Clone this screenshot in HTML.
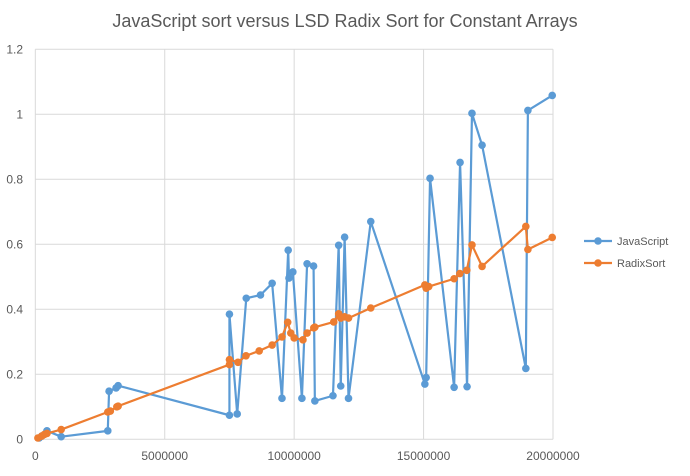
<!DOCTYPE html>
<html><head><meta charset="utf-8"><style>
body{margin:0;background:#fff;font-family:"Liberation Sans",sans-serif}
svg text{font-family:"Liberation Sans",sans-serif;fill:#595959}
</style></head><body>
<svg id="c" width="690" height="471"></svg>
<script>
const xTicks=[0,5000000,10000000,15000000,20000000];
const xTickLabels=["0","5000000","10000000","15000000","20000000"];
const yTicks=[0,0.2,0.4,0.6,0.8,1,1.2];
const yTickLabels=["0","0.2","0.4","0.6","0.8","1","1.2"];
const jsX=[0.15,0.25,0.45,1.0,2.8,2.85,3.12,3.2,7.5,7.5,7.8,8.15,8.7,9.15,9.53,9.77,9.8,9.95,10.3,10.5,10.75,10.8,11.5,11.72,11.8,11.95,12.1,12.96,15.05,15.1,15.25,16.18,16.41,16.68,16.87,17.26,18.95,19.03,19.97];
const jsY=[0.004,0.01,0.026,0.008,0.026,0.148,0.158,0.165,0.074,0.385,0.078,0.434,0.444,0.48,0.126,0.582,0.496,0.515,0.126,0.54,0.533,0.118,0.134,0.597,0.164,0.622,0.126,0.67,0.17,0.19,0.803,0.16,0.852,0.162,1.003,0.905,0.218,1.012,1.058];
const rxX=[0.1,0.25,0.35,0.45,1.0,2.8,2.9,3.15,3.2,7.5,7.5,7.83,8.14,8.65,9.15,9.53,9.75,9.87,10.0,10.34,10.5,10.76,10.8,11.53,11.72,11.8,11.95,12.1,12.96,15.05,15.1,15.2,16.18,16.4,16.67,16.87,17.26,18.95,19.03,19.97];
const rxY=[0.004,0.01,0.015,0.018,0.03,0.084,0.087,0.1,0.102,0.23,0.245,0.237,0.257,0.272,0.29,0.315,0.36,0.327,0.312,0.306,0.327,0.343,0.345,0.361,0.386,0.373,0.377,0.373,0.404,0.475,0.465,0.47,0.494,0.51,0.52,0.598,0.532,0.655,0.584,0.621];
const NS="http://www.w3.org/2000/svg",svg=document.getElementById('c');
const X0=35.3,X1=553,Y0=439.3,Y1=49.3;
const sx=v=>X0+v/20000000*(X1-X0), sy=v=>Y0-v/1.2*(Y0-Y1);
function mk(t,a,p){const e=document.createElementNS(NS,t);for(const k in a)e.setAttribute(k,a[k]);(p||svg).appendChild(e);return e;}
const title=mk('text',{x:345,y:27,'text-anchor':'middle','font-size':18});
title.textContent='JavaScript sort versus LSD Radix Sort for Constant Arrays';


yTicks.forEach((v,i)=>{
  const g=mk('line',{x1:X0,x2:X1,y1:sy(v),y2:sy(v),stroke:'#d9d9d9','stroke-width':1});
  
  
  const t=mk('text',{x:23,y:sy(v)+4,'text-anchor':'end','font-size':12});
  t.textContent=yTickLabels[i];
  
  
});
xTicks.forEach((v,i)=>{
  const g=mk('line',{x1:sx(v),x2:sx(v),y1:Y1,y2:Y0,stroke:'#d9d9d9','stroke-width':1});
  
  
  const t=mk('text',{x:sx(v),y:460,'text-anchor':'middle','font-size':12});
  t.textContent=xTickLabels[i];
  
  
});
function series(xs,ys,col,name){
  const g=mk('g',{});
  
  
  const pts=xs.map((x,i)=>sx(x*1e6)+','+sy(ys[i])).join(' ');
  const pl=mk('polyline',{points:pts,fill:'none',stroke:col,'stroke-width':2.2,'stroke-linejoin':'round'},g);
  
  
  xs.forEach((x,i)=>{
    const c=mk('circle',{cx:sx(x*1e6),cy:sy(ys[i]),r:3.8,fill:col},g);
    
    
  });
}
series(jsX,jsY,'#5b9bd5','javascript');
series(rxX,rxY,'#ed7d31','radixsort');
[['JavaScript','#5b9bd5',241],['RadixSort','#ed7d31',263]].forEach(([n,c,y])=>{
  const g=mk('g',{});
  
  
  mk('line',{x1:584,x2:612,y1:y,y2:y,stroke:c,'stroke-width':2.2},g);
  mk('circle',{cx:598,cy:y,r:3.8,fill:c},g);
  const t=mk('text',{x:617,y:y+4,'font-size':11},g);t.textContent=n;
});
</script>
</body></html>
